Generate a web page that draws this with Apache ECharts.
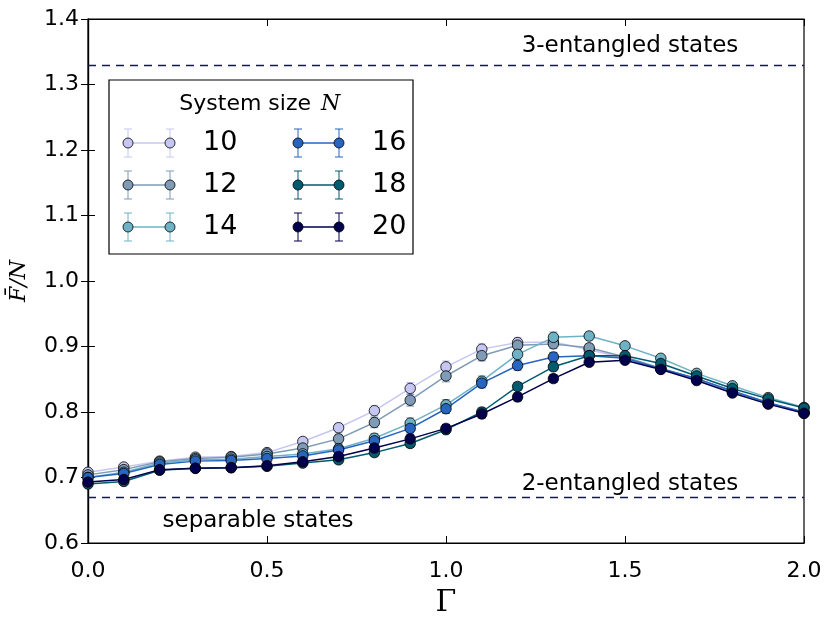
<!DOCTYPE html>
<html><head><meta charset="utf-8">
<script src="https://cdn.jsdelivr.net/npm/echarts@6/dist/echarts.min.js"></script>
<style>html,body{margin:0;padding:0;background:#fff}#c{width:827px;height:623px}</style>
</head><body><div id="c"></div>
<script>
const gamma = [0.0,0.1,0.2,0.3,0.4,0.5,0.6,0.7,0.8,0.9,1.0,1.1,1.2,1.3,1.4,1.5,1.6,1.7,1.8,1.9,2.0];
const sizes = [10,12,14,16,18,20];
const f10 = [0.708,0.716,0.725,0.731,0.732,0.738,0.755,0.776,0.802,0.836,0.869,0.896,0.906,0.907,0.895,0.882,0.866,0.850,0.831,0.813,0.798];
const f12 = [0.704,0.712,0.724,0.729,0.731,0.736,0.745,0.759,0.784,0.818,0.855,0.886,0.902,0.904,0.898,0.884,0.867,0.851,0.832,0.814,0.799];
const f14 = [0.700,0.708,0.722,0.727,0.728,0.732,0.736,0.744,0.760,0.783,0.811,0.847,0.888,0.914,0.916,0.901,0.882,0.859,0.840,0.822,0.807];
const f16 = [0.700,0.706,0.720,0.725,0.726,0.729,0.733,0.742,0.756,0.775,0.805,0.844,0.871,0.884,0.886,0.882,0.866,0.851,0.832,0.814,0.800];
const f18 = [0.690,0.694,0.711,0.714,0.715,0.717,0.722,0.727,0.738,0.752,0.773,0.800,0.839,0.869,0.886,0.886,0.874,0.855,0.836,0.820,0.806];
const f20 = [0.693,0.697,0.712,0.714,0.715,0.718,0.724,0.732,0.745,0.759,0.775,0.797,0.823,0.851,0.876,0.879,0.865,0.848,0.829,0.812,0.798];
const e10 = [0.004,0.004,0.004,0.004,0.004,0.005,0.006,0.007,0.008,0.009,0.009,0.008,0.008,0.007,0.006,0.005,0.004,0.004,0.004,0.004,0.004];
const e12 = [0.004,0.004,0.004,0.004,0.004,0.005,0.006,0.007,0.008,0.009,0.009,0.008,0.008,0.007,0.006,0.005,0.004,0.004,0.004,0.004,0.004];
const e14 = [0.004,0.004,0.004,0.004,0.004,0.004,0.005,0.006,0.007,0.008,0.008,0.008,0.008,0.008,0.006,0.005,0.004,0.004,0.004,0.004,0.004];
const e16 = [0.004,0.004,0.004,0.004,0.004,0.004,0.005,0.005,0.006,0.007,0.007,0.007,0.007,0.007,0.006,0.005,0.004,0.004,0.004,0.004,0.004];
const e18 = [0.004,0.004,0.003,0.003,0.003,0.004,0.004,0.005,0.005,0.006,0.006,0.006,0.006,0.006,0.005,0.005,0.004,0.004,0.004,0.004,0.004];
const e20 = [0.004,0.004,0.003,0.003,0.003,0.004,0.004,0.005,0.005,0.006,0.006,0.006,0.006,0.006,0.005,0.005,0.004,0.004,0.004,0.004,0.004];
const values = [f10,f12,f14,f16,f18,f20];
const errors = [e10,e12,e14,e16,e18,e20];
const thresholds = [4/3, 2/3];
const annotations = [
  {text:'3-entangled states', x:1.514, y:1.359},
  {text:'2-entangled states', x:1.514, y:0.690},
  {text:'separable states', x:0.475, y:0.634}
];
const colors = ['#c6c6f2','#7f9bb6','#6fb2c6','#2765c0','#005b70','#00004c'];

const chart = echarts.init(document.getElementById('c'));
const FONT = 'DejaVu Sans';
const series = [];
sizes.forEach((n, k) => {
  const col = colors[k];
  series.push({
    type:'custom', silent:true, z: 2,
    renderItem:(params, api) => {
      const x = api.value(0), y = api.value(1), e = api.value(2);
      const t = api.coord([x, y + e]), b = api.coord([x, y - e]);
      const w = 4;
      const st = {stroke: col, lineWidth: 1};
      return {type:'group', children:[
        {type:'line', shape:{x1:t[0], y1:t[1], x2:b[0], y2:b[1]}, style:st},
        {type:'line', shape:{x1:t[0]-w, y1:t[1], x2:t[0]+w, y2:t[1]}, style:st},
        {type:'line', shape:{x1:b[0]-w, y1:b[1], x2:b[0]+w, y2:b[1]}, style:st}
      ]};
    },
    data: gamma.map((g, i) => [g, values[k][i], errors[k][i]])
  });
  const s = {
    type:'line', name: String(n), z: 2,
    data: gamma.map((g, i) => [g, values[k][i]]),
    symbol:'circle', symbolSize: 10.5, showAllSymbol: true,
    lineStyle:{color: col, width: 1.5},
    itemStyle:{color: col, borderColor:'#000', borderWidth: 0.8},
    emphasis:{disabled:true}, animation:false
  };
  if (k === 0) {
    s.markLine = {
      silent:true, symbol:'none', animation:false,
      label:{show:false},
      lineStyle:{color:'#15155f', type:[8,6], width:1.4},
      data: thresholds.map(v => ({yAxis: v}))
    };
  }
  series.push(s);
});

const option = {
  animation:false,
  backgroundColor:'#fff',
  grid:{left:88, top:19, right:23, bottom:80, show:true, borderColor:'#000', borderWidth:1.2,
        backgroundColor:'transparent', containLabel:false, outerBoundsMode:'none'},
  xAxis:[
    {type:'value', min:0, max:2, interval:0.5, position:'bottom',
     name:'Γ', nameLocation:'middle', nameGap:45,
     nameTextStyle:{fontFamily:'DejaVu Serif', fontSize:30, color:'#000'},
     axisLine:{lineStyle:{color:'#000', width:1.2}},
     axisTick:{inside:true, length:7, lineStyle:{color:'#000'}},
     axisLabel:{fontFamily:FONT, fontSize:22, color:'#000', margin:17, formatter:v => v.toFixed(1)},
     splitLine:{show:false}},
    {type:'value', min:0, max:2, interval:0.5, position:'top',
     axisLine:{lineStyle:{color:'#000', width:1.2}},
     axisTick:{inside:true, length:7, lineStyle:{color:'#000'}},
     axisLabel:{show:false}, splitLine:{show:false}}
  ],
  yAxis:[
    {type:'value', min:0.6, max:1.4, interval:0.1, position:'left',
     name:'F̄/N', nameLocation:'middle', nameGap:58, nameRotate:90,
     nameTextStyle:{fontFamily:'DejaVu Serif', fontStyle:'italic', fontSize:22, color:'#000'},
     axisLine:{show:true, lineStyle:{color:'#000', width:1.2}},
     axisTick:{inside:true, length:7, lineStyle:{color:'#000'}},
     axisLabel:{fontFamily:FONT, fontSize:22, color:'#000', margin:9, formatter:v => v.toFixed(1)},
     splitLine:{show:false}},
    {type:'value', min:0.6, max:1.4, interval:0.1, position:'right',
     axisLine:{show:true, lineStyle:{color:'#000', width:1.2}},
     axisTick:{inside:true, length:7, lineStyle:{color:'#000'}},
     axisLabel:{show:false}, splitLine:{show:false}}
  ],
  series: series
};
chart.setOption(option);

const g = [];
annotations.forEach(a => {
  const p = chart.convertToPixel({xAxisIndex:0, yAxisIndex:0}, [a.x, a.y]);
  g.push({type:'text', x:p[0], y:p[1], z:10,
    style:{text:a.text, fontFamily:FONT, fontSize:23, fill:'#000', textAlign:'center', textVerticalAlign:'middle'}});
});
g.push({type:'rect', shape:{x:109, y:80, width:304, height:174}, z:20,
  style:{fill:'#fff', stroke:'#000', lineWidth:1.2}});
g.push({type:'text', x:311, y:104, z:21,
  style:{text:'System size', fontFamily:FONT, fontSize:22, fill:'#000', textAlign:'right', textVerticalAlign:'middle'}});
g.push({type:'text', x:321, y:104, z:21,
  style:{text:'N', fontFamily:'DejaVu Serif', fontStyle:'italic', fontSize:22, fill:'#000', textAlign:'left', textVerticalAlign:'middle'}});
const colX = [[128,170,203],[298,339,372]];
const rowY = [143,185,227];
sizes.forEach((n, k) => {
  const c = Math.floor(k / 3), r = k % 3;
  const [x1, x2, tx] = colX[c];
  const y = rowY[r];
  const col = colors[k];
  const st = {stroke: col, lineWidth: 1};
  g.push({type:'line', z:21, shape:{x1:x1, y1:y, x2:x2, y2:y}, style:{stroke:col, lineWidth:1.5}});
  [x1, x2].forEach(xx => {
    g.push({type:'line', z:21, shape:{x1:xx, y1:y-14, x2:xx, y2:y+14}, style:st});
    g.push({type:'line', z:21, shape:{x1:xx-4, y1:y-14, x2:xx+4, y2:y-14}, style:st});
    g.push({type:'line', z:21, shape:{x1:xx-4, y1:y+14, x2:xx+4, y2:y+14}, style:st});
    g.push({type:'circle', z:22, shape:{cx:xx, cy:y, r:5}, style:{fill:col, stroke:'#000', lineWidth:0.8}});
  });
  g.push({type:'text', x:tx, y:y, z:21,
    style:{text:String(n), fontFamily:FONT, fontSize:27, fill:'#000', textAlign:'left', textVerticalAlign:'middle'}});
});
chart.setOption({graphic: g});
</script>
</body></html>
